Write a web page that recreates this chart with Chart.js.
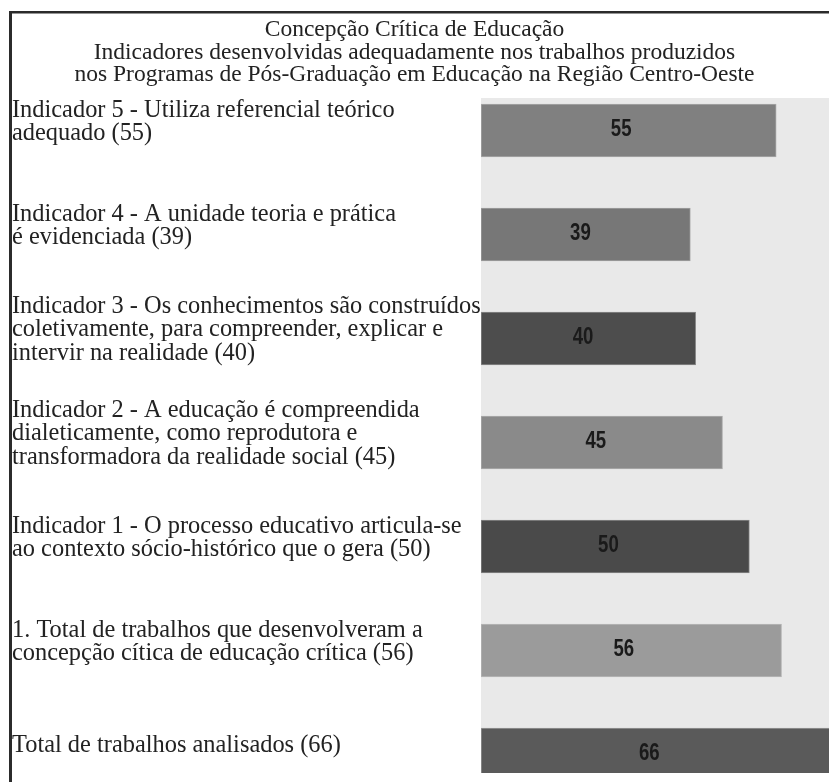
<!DOCTYPE html>
<html><head><meta charset="utf-8">
<script src="https://cdn.jsdelivr.net/npm/chart.js@4"></script>
<style>html,body{margin:0;padding:0;background:#fff;overflow:hidden}canvas{display:block}</style>
</head><body>
<canvas id="c" width="829" height="782"></canvas>
<script>
const titleLines = [
  "Concepção Crítica de Educação",
  "Indicadores desenvolvidas adequadamente nos trabalhos produzidos",
  "nos Programas de Pós-Graduação em Educação na Região Centro-Oeste"
];
const categories = [
  ["Indicador 5 - Utiliza referencial teórico", "adequado (55)"],
  ["Indicador 4 - A unidade teoria e prática", "é evidenciada (39)"],
  ["Indicador 3 - Os conhecimentos são construídos", "coletivamente, para compreender, explicar e", "intervir na realidade (40)"],
  ["Indicador 2 - A educação é compreendida", "dialeticamente, como reprodutora e", "transformadora da realidade social (45)"],
  ["Indicador 1 - O processo educativo articula-se", "ao contexto sócio-histórico que o gera (50)"],
  ["1. Total de trabalhos que desenvolveram a", "concepção cítica de educação crítica (56)"],
  ["Total de trabalhos analisados (66)"]
];
const values = [55, 39, 40, 45, 50, 56, 66];
const barColors = ["#808080", "#777777", "#4d4d4d", "#8a8a8a", "#4a4a4a", "#9b9b9b", "#5a5a5a"];
const edgeColors = ["#a8a8a8", "#a0a0a0", "#8a8a8a", "#adadad", "#888888", "#b8b8b8", "#999999"];

const frame = {
  id: 'frame',
  beforeDraw(chart) {
    const {ctx, chartArea: a} = chart;
    ctx.save();
    ctx.fillStyle = '#e9e9e9';
    ctx.fillRect(a.left, a.top, a.right - a.left, a.bottom - a.top);
    ctx.restore();
  },
  afterDatasetsDraw(chart) {
    const ctx = chart.ctx;
    const meta = chart.getDatasetMeta(0);
    ctx.save();
    ctx.fillStyle = '#1a1a1a';
    ctx.font = 'bold 24px "Liberation Sans", Arial, sans-serif';
    ctx.textAlign = 'center';
    ctx.textBaseline = 'middle';
    meta.data.forEach((bar, i) => {
      const x = bar.base + (bar.x - bar.base) * 0.475;
      ctx.save();
      ctx.translate(x, bar.y - 1);
      ctx.scale(0.775, 1);
      ctx.fillText(String(values[i]), 0, 0);
      ctx.restore();
    });
    ctx.restore();
  },
  afterDraw(chart) {
    const ctx = chart.ctx;
    ctx.save();
    ctx.fillStyle = '#2b2b2b';
    ctx.fillRect(9, 11, chart.width - 9, 2.5);
    ctx.fillRect(9, 11, 3, chart.height - 11);
    ctx.fillStyle = '#222';
    ctx.font = '23.5px "Liberation Serif", serif';
    ctx.textAlign = 'center';
    ctx.textBaseline = 'alphabetic';
    titleLines.forEach((t, i) => ctx.fillText(t, chart.width / 2, 36 + i * 22.5));
    ctx.restore();
  }
};

new Chart(document.getElementById('c'), {
  type: 'bar',
  data: {
    datasets: [{
      data: values.map((v, i) => ({x: v, y: i})),
      backgroundColor: barColors,
      borderColor: edgeColors,
      borderWidth: 1,
      borderSkipped: false,
      barThickness: 53
    }]
  },
  options: {
    indexAxis: 'y',
    responsive: false,
    animation: false,
    layout: {padding: {left: 12, top: 98, right: 0, bottom: 9}},
    plugins: {legend: {display: false}, tooltip: {enabled: false}, title: {display: false}},
    scales: {
      x: {type: 'linear', min: 0, max: 64.84, display: false},
      y: {
        type: 'linear', reverse: true, offset: false, bounds: 'data', min: -0.3125, max: 6.178,
        grid: {display: false, offset: false}, border: {display: false},
        afterBuildTicks: s => { s.ticks = categories.map((_, i) => ({value: i})); },
        afterFit: s => { s.width = 469; s.paddingTop = 0; s.paddingBottom = 0; },
        ticks: {
          autoSkip: false, crossAlign: 'far', labelOffset: -8.5, padding: 0, color: '#222',
          font: {family: 'Liberation Serif', size: 24.4, lineHeight: '23.5px'},
          callback: v => categories[v]
        }
      }
    }
  },
  plugins: [frame]
});
</script>
</body></html>
